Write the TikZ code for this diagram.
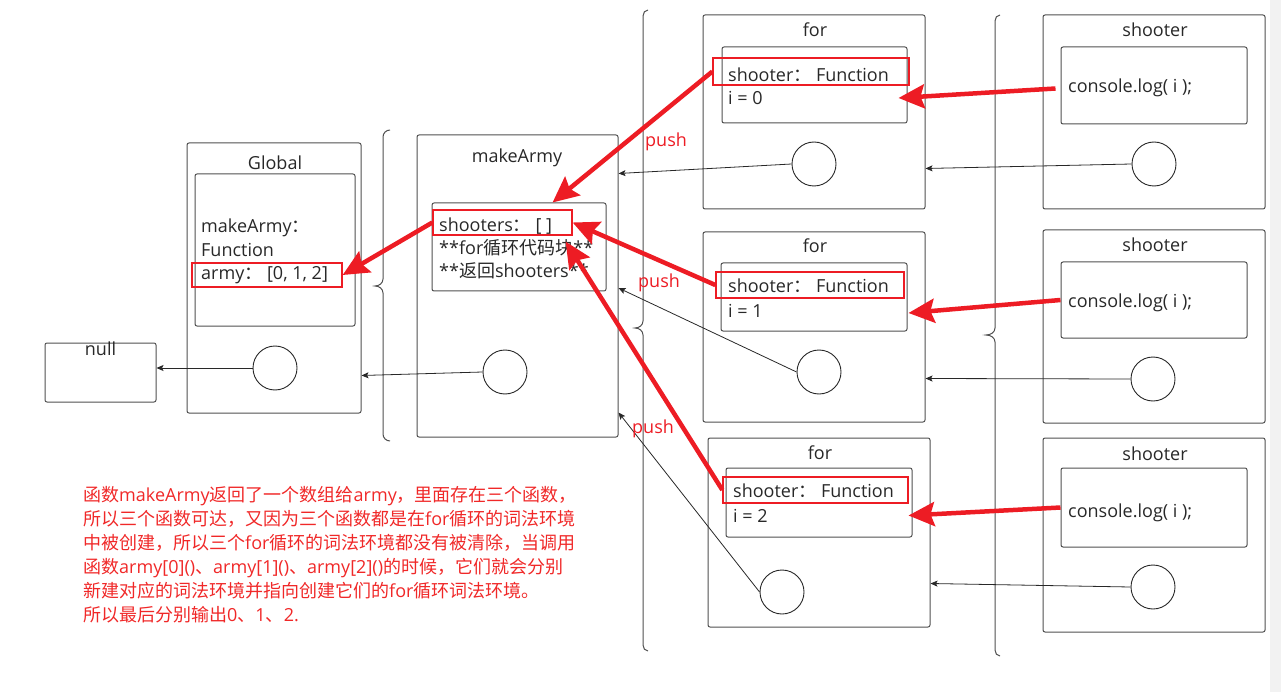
\documentclass[tikz,border=0pt]{standalone}
\usepackage{fontspec}
\setmainfont{Open Sans}
\newfontfamily\cjk{Noto Sans CJK SC}
\usetikzlibrary{arrows.meta, calc, positioning}
\definecolor{jsred}{RGB}{237,28,36}
\definecolor{jsline}{RGB}{80,80,80}
\definecolor{jstext}{RGB}{40,40,40}
\definecolor{jsnote}{RGB}{240,40,40}
\definecolor{jsedge}{RGB}{242,242,242}

\begin{document}
\begin{tikzpicture}[
		x=1pt, y=-1pt,
		texts/.style = {text=jstext, inner sep=0pt, font=\fontsize{18}{23}\selectfont},
		titletext/.style = {texts, anchor=base},
		linetext/.style = {texts, anchor=base west},
		pushtext/.style = {texts, text=jsred, anchor=base west},
		notetext/.style = {text=jsnote, inner sep=0pt, align=left, font=\fontsize{18}{24}\selectfont},
		boxsize/.style 2 args = {minimum width=#1pt, minimum height=#2pt},
		envbox/.style = {draw=jsline, line width=1pt, rounded corners=2pt, inner sep=0pt},
		highlight/.style = {draw=jsred, line width=1.3pt, inner sep=0pt},
		refcircle/.style = {draw=jstext, line width=0.9pt, circle, minimum size=44pt, inner sep=0pt},
		bracket/.style = {draw=jsline, line width=1pt},
		linkarrow/.style = {draw=jstext, line width=0.8pt, -{Stealth[length=7pt, width=6pt, inset=1.5pt]}},
		refarrow/.style = {draw=jsred, line width=4.5pt, -{Stealth[length=26pt, width=24pt, inset=4pt]}}
		]
		\useasboundingbox (0,0) rectangle (1281,692);
		\fill [jsedge] (1270,0) rectangle (1281,692);
		
		% global scope
		\node [envbox, boxsize={174}{270}] (globout) at (274,278) {};
		\node [envbox, boxsize={160}{152}] (globin) at (275,250) {};
		\node [titletext] (globtitle) at (275,170) {Global};
		\node [linetext] (globmk) at (201,233) {makeArmy{\cjk ：}};
		\node [linetext] (globfn) at (201,257) {Function};
		\node [linetext] (globarmy) at (201,280) {army{\cjk ：} [0, 1, 2]};
		\node [highlight, boxsize={150}{24}] (armyhl) at (267,275) {};
		\node [refcircle] (globc) at (275,368) {};
		
		\node [envbox, boxsize={111}{59}] (nullbox) at (100.5,372.5) {};
		\node [titletext] (nulltext) at (100.5,355) {null};
		
		% makeArmy scope
		\node [envbox, boxsize={201}{302}] (mkout) at (517.5,286) {};
		\node [envbox, boxsize={174}{88}] (mkin) at (519,247) {};
		\node [titletext] (mktitle) at (517,163) {makeArmy};
		\node [linetext] (mkshooters) at (439,232) {shooters{\cjk ：} [ ]};
		\node [linetext] (mkloop) at (439,255) {**for{\cjk 循环代码块}**};
		\node [linetext] (mkreturn) at (439,278) {**{\cjk 返回}shooters**};
		\node [highlight, boxsize={139}{25}] (mkhl) at (502.5,222.5) {};
		\node [refcircle] (mkc) at (505,372) {};
		
		% for scopes
		\node [envbox, boxsize={222}{194}] (for0out) at (814,112) {};
		\node [envbox, boxsize={185}{76}] (for0in) at (814.5,85) {};
		\node [titletext] (for0title) at (815,37) {for};
		\node [linetext] (for0fn) at (728,82) {shooter{\cjk ：} Function};
		\node [linetext] (for0i) at (728,105) {i = 0};
		\node [highlight, boxsize={196}{27}] (for0hl) at (811,71.5) {};
		\node [refcircle] (for0c) at (814,164) {};
		
		\node [envbox, boxsize={222}{190}] (for1out) at (814,327) {};
		\node [envbox, boxsize={186}{68}] (for1in) at (814,297) {};
		\node [titletext] (for1title) at (815,253) {for};
		\node [linetext] (for1fn) at (728,293) {shooter{\cjk ：} Function};
		\node [linetext] (for1i) at (728,317) {i = 1};
		\node [highlight, boxsize={188}{26}] (for1hl) at (810,285) {};
		\node [refcircle] (for1c) at (819,372) {};
		
		\node [envbox, boxsize={222}{189}] (for2out) at (819,532.5) {};
		\node [envbox, boxsize={186}{69}] (for2in) at (819,502.5) {};
		\node [titletext] (for2title) at (820,459) {for};
		\node [linetext] (for2fn) at (733,497) {shooter{\cjk ：} Function};
		\node [linetext] (for2i) at (733,522) {i = 2};
		\node [highlight, boxsize={185}{26}] (for2hl) at (815.5,490) {};
		\node [refcircle] (for2c) at (782,592) {};
		
		% shooter scopes
		\node [envbox, boxsize={222}{194}] (sh0out) at (1154,112) {};
		\node [envbox, boxsize={186}{77}] (sh0in) at (1154,85.5) {};
		\node [titletext] (sh0title) at (1155,37) {shooter};
		\node [linetext] (sh0log) at (1068,93) {console.log( i );};
		\node [refcircle] (sh0c) at (1154,164) {};
		
		\node [envbox, boxsize={222}{193}] (sh1out) at (1154,326.5) {};
		\node [envbox, boxsize={186}{76}] (sh1in) at (1154,300) {};
		\node [titletext] (sh1title) at (1155,252) {shooter};
		\node [linetext] (sh1log) at (1068,308) {console.log( i );};
		\node [refcircle] (sh1c) at (1153,379) {};
		
		\node [envbox, boxsize={222}{194}] (sh2out) at (1154,535) {};
		\node [envbox, boxsize={186}{79}] (sh2in) at (1154,507.5) {};
		\node [titletext] (sh2title) at (1155,460) {shooter};
		\node [linetext] (sh2log) at (1068,517) {console.log( i );};
		\node [refcircle] (sh2c) at (1153,587) {};
		
		% brackets
		\draw [bracket] (390,130) to[out=180, in=90] (383,137) -- (383,279) to[out=270, in=0] (375,286)
			to[out=0, in=90] (383,293) -- (383,434) to[out=270, in=180] (390,441);
		\draw [bracket] (648,10) to[out=180, in=90] (643,16) -- (643,321) to[out=270, in=0] (635,328)
			to[out=0, in=90] (643,335) -- (643,645) to[out=270, in=180] (648,651);
		\draw [bracket] (1000,15) to[out=180, in=90] (995,21) -- (995,328) to[out=270, in=0] (986,335)
			to[out=0, in=90] (995,342) -- (995,650) to[out=270, in=180] (1000,656);
		
		% outer references
		\draw [linkarrow] (globc.west) -- (globc.west -| nullbox.east);
		\draw [linkarrow] (mkc.west) -- ($(globout.south east)+(0,-38)$);
		\draw [linkarrow] (for0c.west) -- ($(mkout.north east)+(0,39)$);
		\draw [linkarrow] (for1c.west) -- ($(mkout.east)+(0,2)$);
		\draw [linkarrow] (for2c.west) -- ($(mkout.south east)+(0,-25)$);
		\draw [linkarrow] (sh0c.west) -- ($(for0out.south east)+(0,-41)$);
		\draw [linkarrow] (sh1c.west) -- ($(for1out.south east)+(0,-44)$);
		\draw [linkarrow] (sh2c.west) -- ($(for2out.south east)+(0,-44)$);
		
		\node [pushtext] (push0) at (645,147) {push};
		\node [pushtext] (push1) at (638,288) {push};
		\node [pushtext] (push2) at (632,433) {push};
		
		% value references
		\draw [refarrow] (for0hl.west) -- (mkin.53);
		\draw [refarrow] (for1hl.west) -- (mkhl.east);
		\draw [refarrow] (for2hl.west) -- ($(mkhl.south east)+(-7,6)$);
		\draw [refarrow] (mkhl.west) -- (armyhl.east);
		\draw [refarrow] ($(sh0in.west)+(-5,3)$) -- ($(for0in.east)+(-9,13)$);
		\draw [refarrow] (sh1in.west) -- ($(for1in.east)+(1,16)$);
		\draw [refarrow] (sh2in.west) -- ($(for2in.east)+(-4,13)$);
		
		\node [notetext, anchor=north west] (note) at (83,486) {%
			{\cjk 函数}makeArmy{\cjk 返回了一个数组给}army{\cjk ，里面存在三个函数，}\\
			{\cjk 所以三个函数可达，又因为三个函数都是在}for{\cjk 循环的词法环境}\\
			{\cjk 中被创建，所以三个}for{\cjk 循环的词法环境都没有被清除，当调用}\\
			{\cjk 函数}army[0](){\cjk 、}army[1](){\cjk 、}army[2](){\cjk 的时候，它们就会分别}\\
			{\cjk 新建对应的词法环境并指向创建它们的}for{\cjk 循环词法环境。}\\
			{\cjk 所以最后分别输出}0{\cjk 、}1{\cjk 、}2.};
		
		\end{tikzpicture}
\end{document}
